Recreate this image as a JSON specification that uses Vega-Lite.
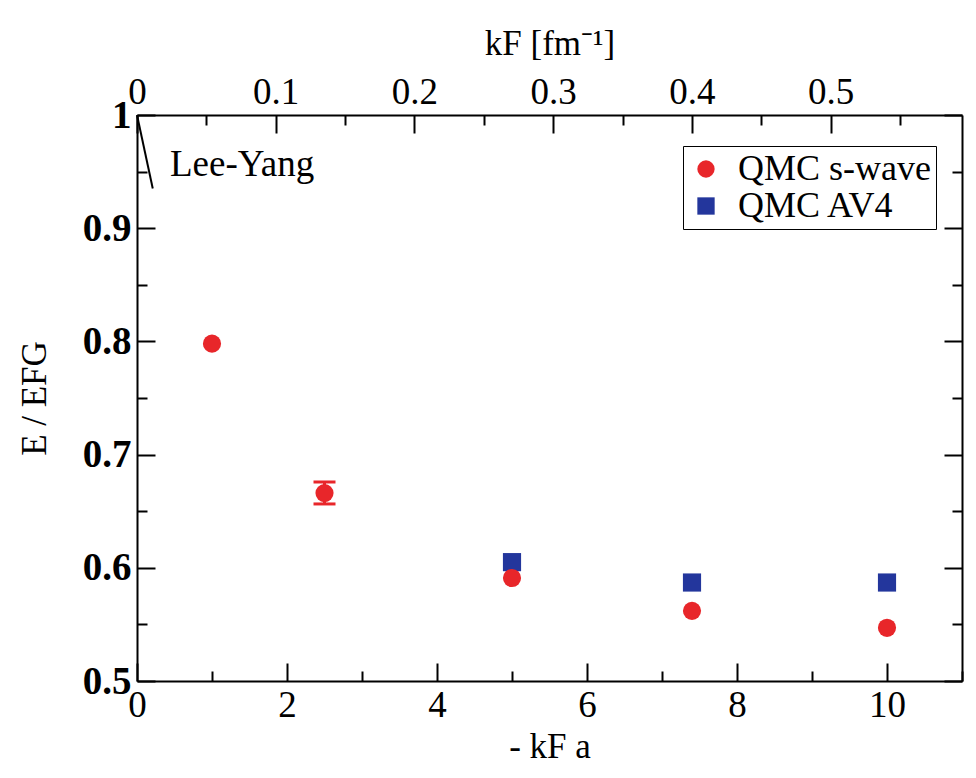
{
  "$schema": "https://vega.github.io/schema/vega-lite/v6.json",
  "width": 825,
  "height": 566,
  "autosize": "none",
  "padding": {"left": 137, "top": 115, "right": 14, "bottom": 97},
  "background": "white",
  "config": {
    "font": "Liberation Serif",
    "view": {"stroke": null},
    "axis": {
      "domainColor": "black", "domainWidth": 2, "tickColor": "black", "tickWidth": 2,
      "labelColor": "black", "titleColor": "black", "labelFont": "Liberation Serif",
      "titleFont": "Liberation Serif", "grid": false, "titleFontWeight": "normal",
      "labelFlush": false, "labelOverlap": false
    }
  },
  "layer": [
    {
      "encoding": {
        "x": {
          "field": "x", "type": "quantitative",
          "scale": {"domain": [0, 11], "nice": false, "zero": false},
          "axis": {
            "orient": "bottom",
            "values": [0, 1, 2, 3, 4, 5, 6, 7, 8, 9, 10, 11],
            "labelExpr": "datum.value % 2 == 0 ? datum.label : ''",
            "tickSize": {"condition": {"test": "datum.value % 2 == 0", "value": -18}, "value": -10},
            "labelFontSize": 37, "labelPadding": 24,
            "title": "- kF a", "titleFontSize": 35, "titlePadding": -2
          }
        },
        "y": {
          "field": "y", "type": "quantitative",
          "scale": {"domain": [0.5, 1], "nice": false, "zero": false},
          "axis": {
            "orient": "left",
            "values": [0.5, 0.55, 0.6, 0.65, 0.7, 0.75, 0.8, 0.85, 0.9, 0.95, 1.0],
            "labelExpr": "abs(datum.value*10 - round(datum.value*10)) < 0.001 ? (datum.value == 1 ? '1' : format(datum.value, '.1f')) : ''",
            "tickSize": {"condition": {"test": "abs(datum.value*10 - round(datum.value*10)) < 0.001", "value": -18}, "value": -10},
            "labelFontSize": 39, "labelFontWeight": "bold", "labelPadding": 24,
            "title": "E / EFG", "titleFontSize": 35, "titlePadding": 30
          }
        }
      },
      "layer": [
        {
          "data": {"values": [{"x": 0, "y": 1.0}, {"x": 0.21, "y": 0.935}]},
          "mark": {"type": "line", "color": "black", "strokeWidth": 2}
        },
        {
          "data": {"values": [{"x": 0.44, "y": 0.956, "label": "Lee-Yang"}]},
          "mark": {"type": "text", "align": "left", "baseline": "middle", "fontSize": 37, "font": "Liberation Serif", "color": "black"},
          "encoding": {"text": {"field": "label"}}
        },
        {
          "data": {"values": [{"x": 2.5, "y": 0.6564, "y2": 0.6758}]},
          "mark": {"type": "errorbar", "ticks": {"size": 22, "thickness": 3, "color": "#e8262a", "opacity": 1}, "rule": {"strokeWidth": 3, "color": "#e8262a", "opacity": 1}, "color": "#e8262a", "opacity": 1},
          "encoding": {"y2": {"field": "y2"}}
        },
        {
          "data": {"values": [
            {"x": 5, "y": 0.605, "series": "QMC AV4"},
            {"x": 7.4, "y": 0.587, "series": "QMC AV4"},
            {"x": 10, "y": 0.587, "series": "QMC AV4"},
            {"x": 1, "y": 0.798, "series": "QMC s-wave"},
            {"x": 2.5, "y": 0.666, "series": "QMC s-wave"},
            {"x": 5, "y": 0.591, "series": "QMC s-wave"},
            {"x": 7.4, "y": 0.562, "series": "QMC s-wave"},
            {"x": 10, "y": 0.547, "series": "QMC s-wave"}
          ]},
          "mark": {"type": "point", "filled": true, "opacity": 1, "size": 330},
          "encoding": {
            "color": {
              "field": "series", "type": "nominal",
              "scale": {"domain": ["QMC s-wave", "QMC AV4"], "range": ["#e8262a", "#23369c"]},
              "legend": {
                "orient": "none", "legendX": 546, "legendY": 31, "title": null,
                "strokeColor": "black", "fillColor": "white", "padding": 5,
                "labelFontSize": 36, "labelFont": "Liberation Serif", "labelColor": "black",
                "labelLimit": 400,
                "symbolSize": 300, "rowPadding": 1, "labelOffset": 14
              }
            },
            "shape": {
              "field": "series", "type": "nominal",
              "scale": {"domain": ["QMC s-wave", "QMC AV4"], "range": ["circle", "square"]}
            }
          }
        }
      ]
    },
    {
      "data": {"values": [{"kF": 0, "y": 0.5}, {"kF": 0.5946, "y": 1}]},
      "mark": {"type": "point", "opacity": 0},
      "encoding": {
        "x": {
          "field": "kF", "type": "quantitative",
          "scale": {"domain": [0, 0.5946], "nice": false, "zero": false},
          "axis": {
            "orient": "top",
            "values": [0, 0.05, 0.1, 0.15, 0.2, 0.25, 0.3, 0.35, 0.4, 0.45, 0.5, 0.55],
            "labelExpr": "abs(datum.value*10 - round(datum.value*10)) < 0.001 ? (datum.value == 0 ? '0' : format(datum.value, '.1f')) : ''",
            "tickSize": {"condition": {"test": "abs(datum.value*10 - round(datum.value*10)) < 0.001", "value": -18}, "value": -10},
            "labelFontSize": 37, "labelPadding": 22,
            "title": "kF [fm⁻¹]", "titleFontSize": 35, "titlePadding": 4
          }
        },
        "y": {
          "field": "y", "type": "quantitative",
          "scale": {"domain": [0.5, 1], "nice": false, "zero": false},
          "axis": {
            "orient": "right",
            "values": [0.5, 0.55, 0.6, 0.65, 0.7, 0.75, 0.8, 0.85, 0.9, 0.95, 1.0],
            "labels": false,
            "tickSize": {"condition": {"test": "abs(datum.value*10 - round(datum.value*10)) < 0.001", "value": -18}, "value": -10},
            "title": null
          }
        }
      }
    }
  ],
  "resolve": {"scale": {"x": "independent", "y": "independent"}}
}
